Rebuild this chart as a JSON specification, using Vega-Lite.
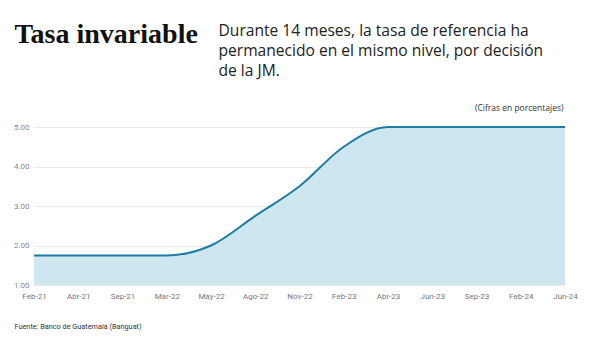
{
  "$schema": "https://vega.github.io/schema/vega-lite/v6.json",
  "width": 531,
  "height": 158,
  "autosize": {"type": "none"},
  "padding": {"left": 34, "top": 127, "right": 35, "bottom": 53},
  "background": "white",
  "config": {"view": {"stroke": null}, "font": "Roboto"},
  "data": {
    "values": [
      {"fecha": "Feb-21", "tasa": 1.75},
      {"fecha": "Abr-21", "tasa": 1.75},
      {"fecha": "Sep-21", "tasa": 1.75},
      {"fecha": "Mar-22", "tasa": 1.75},
      {"fecha": "May-22", "tasa": 2.0},
      {"fecha": "Ago-22", "tasa": 2.75},
      {"fecha": "Nov-22", "tasa": 3.5},
      {"fecha": "Feb-23", "tasa": 4.5},
      {"fecha": "Abr-23", "tasa": 5.0},
      {"fecha": "Jun-23", "tasa": 5.0},
      {"fecha": "Sep-23", "tasa": 5.0},
      {"fecha": "Feb-24", "tasa": 5.0},
      {"fecha": "Jun-24", "tasa": 5.0}
    ]
  },
  "layer": [
    {
      "mark": {"type": "area", "interpolate": "monotone", "color": "#cde6f0", "opacity": 1},
      "encoding": {
        "x": {
          "field": "fecha", "type": "ordinal", "sort": null,
          "scale": {"type": "point", "padding": 0},
          "axis": {
            "title": "Fuente: Banco de Guatemala (Banguat)",
            "titleX": -20, "titleY": 43, "titleAlign": "left", "titleAnchor": null,
            "titleBaseline": "alphabetic", "titleFont": "Roboto", "titleFontSize": 7.3,
            "titleFontWeight": "normal", "titleColor": "#333",
            "labelAngle": 0, "labelFontSize": 8, "labelColor": "#777", "labelPadding": 7,
            "ticks": false, "domain": false, "grid": false
          }
        },
        "y": {
          "field": "tasa", "type": "quantitative",
          "scale": {"domain": [1, 5], "zero": false, "nice": false},
          "axis": {
            "values": [1, 2, 3, 4, 5], "format": ".2f",
            "title": "Tasa invariable",
            "titleAngle": 0, "titleX": -20, "titleY": -85, "titleAlign": "left",
            "titleBaseline": "alphabetic", "titleFont": "Liberation Serif", "titleFontSize": 28,
            "titleFontWeight": "bold", "titleColor": "#111",
            "labelFontSize": 8, "labelColor": "#888", "labelPadding": 5,
            "ticks": false, "domain": false, "grid": true, "gridColor": "#e9e9e9", "gridWidth": 1
          }
        },
        "y2": {"datum": 1}
      }
    },
    {
      "mark": {"type": "line", "interpolate": "monotone", "color": "#1f7ca3", "strokeWidth": 2},
      "encoding": {
        "x": {
          "field": "fecha", "type": "ordinal", "sort": null,
          "scale": {"type": "point", "padding": 0},
          "axis": {
            "orient": "top",
            "title": "(Cifras en porcentajes)",
            "titleX": 529, "titleY": -17, "titleAlign": "right", "titleAnchor": null,
            "titleBaseline": "alphabetic", "titleFont": "Open Sans", "titleFontSize": 8.5,
            "titleFontWeight": "normal", "titleColor": "#333",
            "labels": false, "ticks": false, "domain": false, "grid": false
          }
        },
        "y": {
          "field": "tasa", "type": "quantitative",
          "scale": {"domain": [1, 5], "zero": false, "nice": false},
          "axis": {
            "orient": "right",
            "title": ["Durante 14 meses, la tasa de referencia ha", "permanecido en el mismo nivel, por decisión", "de la JM."],
            "titleAngle": 0, "titleX": -347, "titleY": -92, "titleAlign": "left",
            "titleBaseline": "alphabetic", "titleFont": "Open Sans", "titleFontSize": 15.6,
            "titleFontWeight": "normal", "titleColor": "#222", "titleLineHeight": 20,
            "labels": false, "ticks": false, "domain": false, "grid": false
          }
        }
      }
    }
  ],
  "resolve": {"scale": {"x": "independent", "y": "independent"}}
}
